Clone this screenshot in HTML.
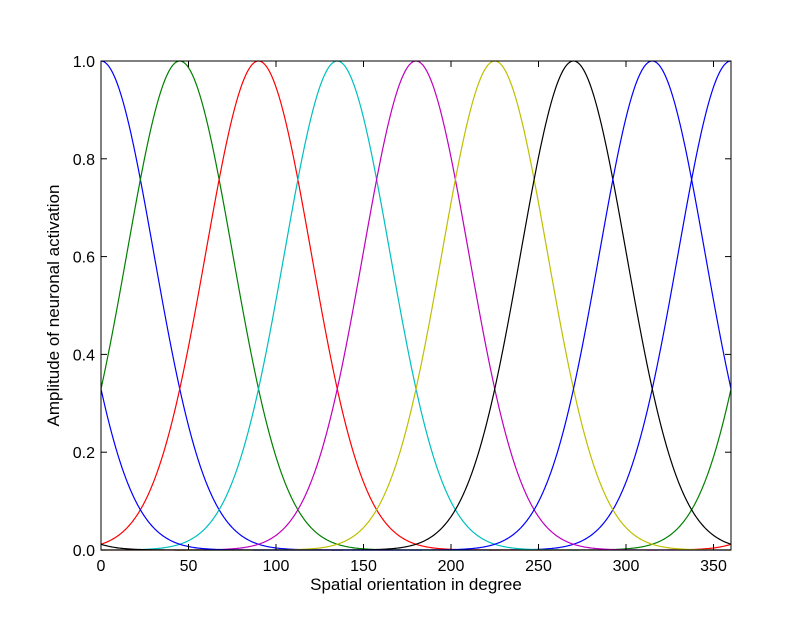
<!DOCTYPE html>
<html><head><meta charset="utf-8"><style>
body{margin:0;background:#fff;}
svg text{font-family:"Liberation Sans",sans-serif;}
</style></head><body>
<svg id="chart" width="812" height="612" xmlns="http://www.w3.org/2000/svg">
<rect width="812" height="612" fill="#fff"/>
<g id="plot"></g>
</svg>
<script>
const peakCenters = [0, 45, 90, 135, 180, 225, 270, 315];
const seriesColors = ['#0000ff','#008000','#ff0000','#00bfbf','#bf00bf','#bfbf00','#000000','#0000ff'];
const tuningWidth = 30.2;
const xTicks = [0,50,100,150,200,250,300,350];
const yTicks = [0,0.2,0.4,0.6,0.8,1.0];
const yTickLabels = ['0.0','0.2','0.4','0.6','0.8','1.0'];

const L=101,R=731,T=61,B=550;
const xs=v=>L+v/360*(R-L);
const ys=v=>B-v*(B-T);
const NS='http://www.w3.org/2000/svg';
const g=document.getElementById('plot');
function mk(tag,attrs,parent){const e=document.createElementNS(NS,tag);for(const k in attrs)e.setAttribute(k,attrs[k]);(parent||g).appendChild(e);return e;}

peakCenters.forEach((c,i)=>{
  let d='';
  for(let x=0;x<=360;x+=0.5){
    let dist=Math.abs(x-c)%360; if(dist>180)dist=360-dist;
    const v=Math.exp(-dist*dist/(2*tuningWidth*tuningWidth));
    d+=(x===0?'M':'L')+xs(x).toFixed(2)+','+ys(v).toFixed(2);
  }
  const p=mk('path',{d:d,fill:'none',stroke:seriesColors[i],'stroke-width':1.2});
  
  
});

const frame=mk('rect',{x:L,y:T,width:R-L,height:B-T,fill:'none',stroke:'#000','stroke-width':1});



xTicks.forEach(v=>{
  const x=xs(v);
  mk('line',{x1:x,y1:B,x2:x,y2:B-6,stroke:'#000'});
  mk('line',{x1:x,y1:T,x2:x,y2:T+6,stroke:'#000'});
  const t=mk('text',{x:x,y:B+21,'text-anchor':'middle','font-size':16});
  t.textContent=v;
  
  
});
yTicks.forEach((v,i)=>{
  const y=ys(v);
  mk('line',{x1:L,y1:y,x2:L+6,y2:y,stroke:'#000'});
  mk('line',{x1:R,y1:y,x2:R-6,y2:y,stroke:'#000'});
  const t=mk('text',{x:L-6,y:y+6,'text-anchor':'end','font-size':16});
  t.textContent=yTickLabels[i];
  
  
});
const xl=mk('text',{x:(L+R)/2,y:590,'text-anchor':'middle','font-size':17});
xl.textContent='Spatial orientation in degree';


const yl=mk('text',{x:0,y:0,'text-anchor':'middle','font-size':17,transform:'translate(59,'+((T+B)/2)+') rotate(-90)'});
yl.textContent='Amplitude of neuronal activation';


</script>
</body></html>
